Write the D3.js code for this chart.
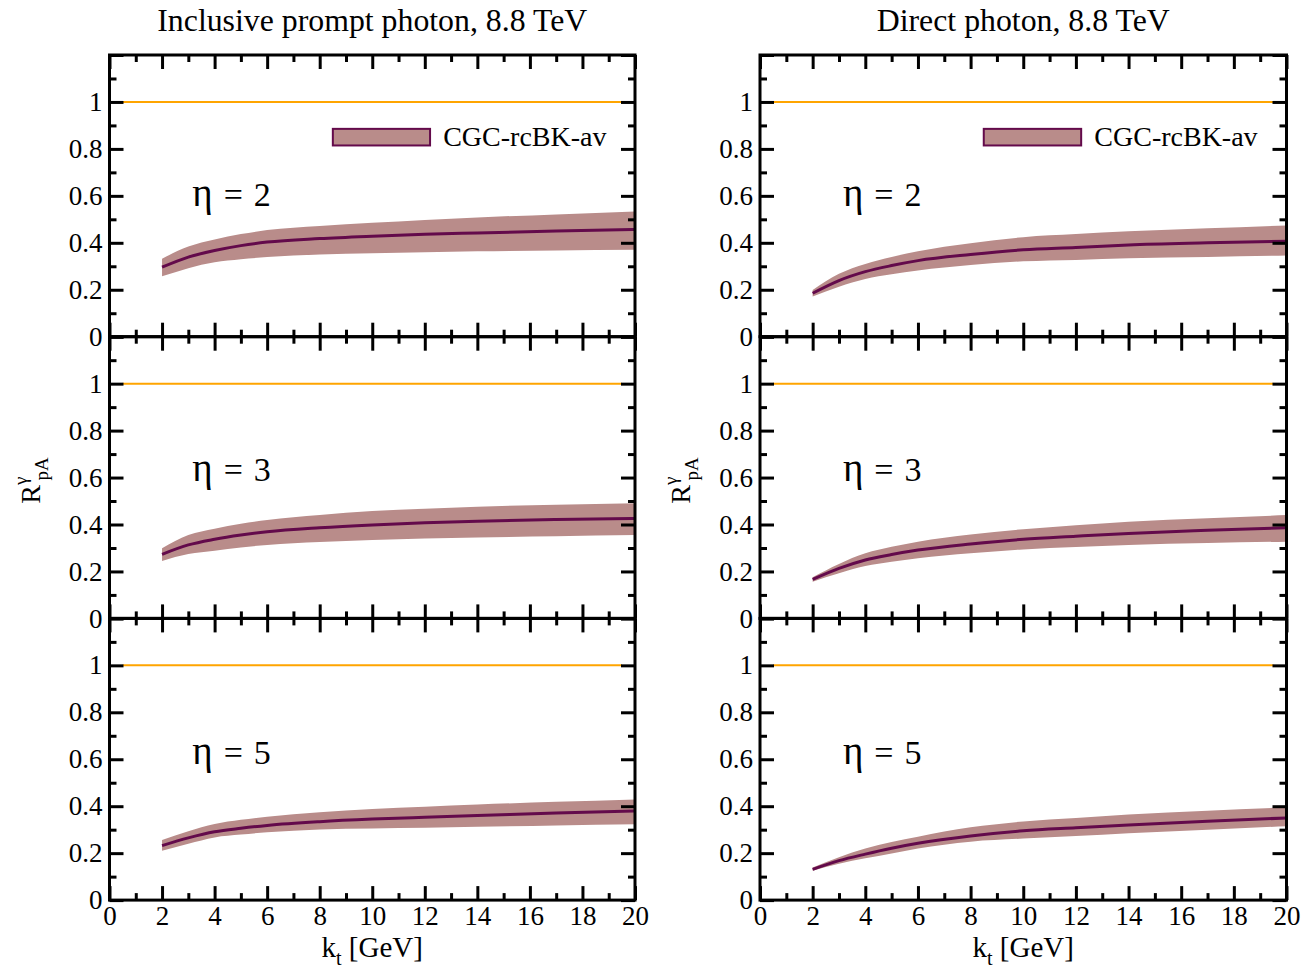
<!DOCTYPE html>
<html>
<head>
<meta charset="utf-8">
<script src="https://cdn.jsdelivr.net/npm/d3@7/dist/d3.min.js"></script>
<style>
  html, body { margin: 0; padding: 0; background: #fff; }
  svg { display: block; }
</style>
</head>
<body>
<svg id="chart" width="1314" height="969"></svg>
<script>
// Transverse momentum grid (GeV)
const ktPoints = [2, 3, 4, 5, 6, 8, 10, 12, 14, 17, 20];

// Inclusive prompt photon, 8.8 TeV
const inclEta2Mid = [0.296, 0.339, 0.367, 0.388, 0.403, 0.418, 0.428, 0.436, 0.442, 0.450, 0.457];
const inclEta2Lo  = [0.257, 0.292, 0.317, 0.330, 0.339, 0.350, 0.356, 0.360, 0.364, 0.367, 0.370];
const inclEta2Hi  = [0.332, 0.384, 0.414, 0.437, 0.454, 0.472, 0.485, 0.497, 0.508, 0.521, 0.533];

const inclEta3Mid = [0.273, 0.313, 0.337, 0.355, 0.369, 0.386, 0.398, 0.407, 0.414, 0.421, 0.426];
const inclEta3Lo  = [0.245, 0.274, 0.288, 0.302, 0.313, 0.325, 0.334, 0.340, 0.345, 0.350, 0.355];
const inclEta3Hi  = [0.299, 0.355, 0.382, 0.403, 0.419, 0.441, 0.457, 0.467, 0.476, 0.484, 0.490];

const inclEta5Mid = [0.232, 0.265, 0.291, 0.306, 0.318, 0.334, 0.345, 0.353, 0.360, 0.371, 0.380];
const inclEta5Lo  = [0.210, 0.240, 0.267, 0.279, 0.289, 0.301, 0.305, 0.308, 0.312, 0.318, 0.323];
const inclEta5Hi  = [0.256, 0.293, 0.324, 0.342, 0.355, 0.374, 0.388, 0.398, 0.407, 0.419, 0.429];

// Direct photon, 8.8 TeV
const dirEta2Mid = [0.185, 0.239, 0.277, 0.303, 0.324, 0.350, 0.370, 0.380, 0.391, 0.400, 0.407];
const dirEta2Lo  = [0.171, 0.213, 0.246, 0.266, 0.282, 0.305, 0.321, 0.327, 0.334, 0.340, 0.346];
const dirEta2Hi  = [0.199, 0.268, 0.310, 0.340, 0.364, 0.398, 0.424, 0.437, 0.449, 0.462, 0.474];

const dirEta3Mid = [0.166, 0.213, 0.249, 0.272, 0.291, 0.317, 0.337, 0.350, 0.362, 0.375, 0.386];
const dirEta3Lo  = [0.156, 0.192, 0.223, 0.241, 0.256, 0.277, 0.294, 0.304, 0.313, 0.321, 0.327];
const dirEta3Hi  = [0.175, 0.232, 0.277, 0.305, 0.327, 0.357, 0.380, 0.397, 0.412, 0.427, 0.440];

const dirEta5Mid = [0.131, 0.168, 0.196, 0.221, 0.242, 0.273, 0.295, 0.308, 0.320, 0.336, 0.350];
const dirEta5Lo  = [0.125, 0.155, 0.178, 0.199, 0.220, 0.249, 0.262, 0.273, 0.285, 0.300, 0.315];
const dirEta5Hi  = [0.139, 0.183, 0.220, 0.247, 0.270, 0.310, 0.335, 0.350, 0.365, 0.381, 0.395];

// Axis ticks and labels
const xMajorTicks = [0, 2, 4, 6, 8, 10, 12, 14, 16, 18, 20];
const xMinorTicks = [1, 3, 5, 7, 9, 11, 13, 15, 17, 19];
const yMajorTicks = [0, 0.2, 0.4, 0.6, 0.8, 1.0, 1.2];
const yMinorTicks = [0.1, 0.3, 0.5, 0.7, 0.9, 1.1];
const yTickLabels = ["0", "0.2", "0.4", "0.6", "0.8", "1"];

const columnTitles = ["Inclusive prompt photon, 8.8 TeV", "Direct photon, 8.8 TeV"];
const rowEtas = ["2", "3", "5"];
const legendLabel = "CGC-rcBK-av";

const seriesGrid = [
  [[inclEta2Mid, inclEta2Lo, inclEta2Hi], [inclEta3Mid, inclEta3Lo, inclEta3Hi], [inclEta5Mid, inclEta5Lo, inclEta5Hi]],
  [[dirEta2Mid, dirEta2Lo, dirEta2Hi], [dirEta3Mid, dirEta3Lo, dirEta3Hi], [dirEta5Mid, dirEta5Lo, dirEta5Hi]]
];

// Layout
const colX = [[109.5, 635], [760, 1286.5]];
const panelTop = 55;
const panelH = 281.7;
const etaLabelY = [0.556, 0.585, 0.58];
const FONT = "'Liberation Serif', 'Times New Roman', serif";
const bandColor = "#b98c8a";
const lineColor = "#630a4b";
const refColor = "#ffa500";

const svg = d3.select("#chart");

columnTitles.forEach((title, c) => {
  const x = d3.scaleLinear().domain([0, 20]).range(colX[c]);
  const xMid = (colX[c][0] + colX[c][1]) / 2;

  svg.append("text")
    .attr("x", xMid).attr("y", 31)
    .attr("text-anchor", "middle")
    .attr("font-family", FONT).attr("font-size", 31.8)
    .text(title);

  rowEtas.forEach((eta, r) => {
    const top = panelTop + r * panelH;
    const bottom = top + panelH;
    const y = d3.scaleLinear().domain([0, 1.2]).range([bottom, top]);
    const [mid, lo, hi] = seriesGrid[c][r];
    const rows = ktPoints.map((k, i) => ({ k, mid: mid[i], lo: lo[i], hi: hi[i] }));
    const g = svg.append("g");

    // reference line at unity
    g.append("line")
      .attr("x1", x(0.5)).attr("x2", x(19.5))
      .attr("y1", y(1)).attr("y2", y(1))
      .attr("stroke", refColor).attr("stroke-width", 2);

    // uncertainty band and central curve
    g.append("path")
      .datum(rows)
      .attr("fill", bandColor)
      .attr("d", d3.area().curve(d3.curveMonotoneX)
        .x(d => x(d.k)).y0(d => y(d.lo)).y1(d => y(d.hi)));
    g.append("path")
      .datum(rows)
      .attr("fill", "none").attr("stroke", lineColor).attr("stroke-width", 3)
      .attr("stroke-linejoin", "round")
      .attr("d", d3.line().curve(d3.curveMonotoneX).x(d => x(d.k)).y(d => y(d.mid)));

    // inward ticks on all four sides
    const tickStyle = sel => {
      sel.select(".domain").remove();
      sel.selectAll(".tick line").attr("stroke-width", 3);
      sel.attr("font-family", FONT).attr("font-size", 27);
    };
    const xFmt = d => String(d);
    g.append("g").attr("transform", `translate(0,${bottom})`)
      .call(d3.axisBottom(x).tickValues(xMajorTicks).tickSize(-14).tickPadding(6)
        .tickFormat(r === 2 ? xFmt : () => ""))
      .call(tickStyle);
    g.append("g").attr("transform", `translate(0,${bottom})`)
      .call(d3.axisBottom(x).tickValues(xMinorTicks).tickSize(-7).tickFormat(() => ""))
      .call(tickStyle);
    g.append("g").attr("transform", `translate(0,${top})`)
      .call(d3.axisTop(x).tickValues(xMajorTicks).tickSize(-14).tickFormat(() => ""))
      .call(tickStyle);
    g.append("g").attr("transform", `translate(0,${top})`)
      .call(d3.axisTop(x).tickValues(xMinorTicks).tickSize(-7).tickFormat(() => ""))
      .call(tickStyle);

    g.append("g").attr("transform", `translate(${colX[c][0]},0)`)
      .call(d3.axisLeft(y).tickValues(yMajorTicks).tickSize(-14).tickPadding(7)
        .tickFormat((d, i) => yTickLabels[i] || ""))
      .call(tickStyle);
    g.append("g").attr("transform", `translate(${colX[c][0]},0)`)
      .call(d3.axisLeft(y).tickValues(yMinorTicks).tickSize(-7).tickFormat(() => ""))
      .call(tickStyle);
    g.append("g").attr("transform", `translate(${colX[c][1]},0)`)
      .call(d3.axisRight(y).tickValues(yMajorTicks).tickSize(-14).tickFormat(() => ""))
      .call(tickStyle);
    g.append("g").attr("transform", `translate(${colX[c][1]},0)`)
      .call(d3.axisRight(y).tickValues(yMinorTicks).tickSize(-7).tickFormat(() => ""))
      .call(tickStyle);

    // frame
    g.append("rect")
      .attr("x", colX[c][0]).attr("y", top)
      .attr("width", colX[c][1] - colX[c][0]).attr("height", panelH)
      .attr("fill", "none").attr("stroke", "#000").attr("stroke-width", 3);

    // rapidity label
    const et = g.append("text")
      .attr("x", x(3.15)).attr("y", y(etaLabelY[r]))
      .attr("font-family", FONT).attr("font-size", 34);
    et.append("tspan").attr("font-size", 39).text("η");
    et.append("tspan").attr("dx", 11).text("=");
    et.append("tspan").attr("dx", 11).text(eta);

    // legend
    if (r === 0) {
      g.append("rect")
        .attr("x", x(8.5)).attr("y", y(0.85) - 8.3)
        .attr("width", x(12.2) - x(8.5)).attr("height", 16.6)
        .attr("fill", bandColor).attr("stroke", lineColor).attr("stroke-width", 2);
      g.append("text")
        .attr("x", x(12.7)).attr("y", y(0.85) + 9)
        .attr("font-family", FONT).attr("font-size", 28)
        .text(legendLabel);
    }

    // y-axis title on the middle row
    if (r === 1) {
      const ty = (top + bottom) / 2 + 3;
      const t = svg.append("text")
        .attr("transform", `translate(${colX[c][0] - 70},${ty}) rotate(-90)`)
        .attr("text-anchor", "middle")
        .attr("font-family", FONT).attr("font-size", 28);
      t.append("tspan").text("R");
      t.append("tspan").attr("font-size", 19).attr("dy", -13).text("γ");
      t.append("tspan").attr("font-size", 19).attr("dx", -4).attr("dy", 21).text("pA");
    }
  });

  // x-axis title
  const xt = svg.append("text")
    .attr("x", xMid).attr("y", 957)
    .attr("text-anchor", "middle")
    .attr("font-family", FONT).attr("font-size", 29);
  xt.append("tspan").text("k");
  xt.append("tspan").attr("font-size", 20).attr("dy", 8).text("t");
  xt.append("tspan").attr("dy", -8).attr("xml:space", "preserve").text(" [GeV]");
});
</script>
</body>
</html>
